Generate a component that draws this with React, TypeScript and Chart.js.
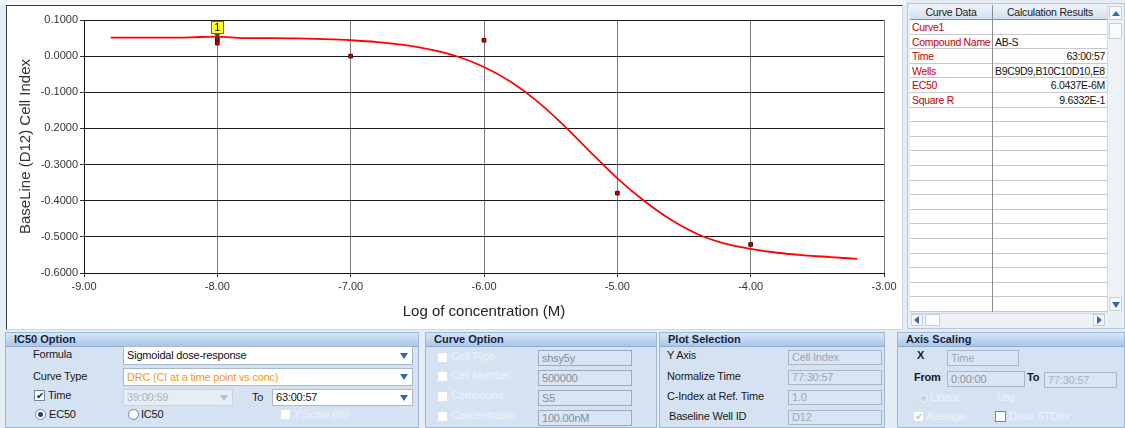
import React, { useEffect, useRef } from "react";
import Chart from "chart.js/auto";

// ---- chart data ----
const curveX = [-8.8, -8.6, -8.4, -8.2, -8.0, -7.8, -7.6, -7.4, -7.2, -7.0, -6.8, -6.6, -6.4, -6.2, -6.0, -5.8, -5.6, -5.4, -5.2, -5.0, -4.8, -4.6, -4.4, -4.2, -4.0, -3.8, -3.6, -3.4, -3.2];
const curveY = [0.051, 0.051, 0.051, 0.052, 0.054, 0.050, 0.050, 0.049, 0.047, 0.044, 0.039, 0.031, 0.018, -0.001, -0.030, -0.071, -0.125, -0.192, -0.266, -0.338, -0.400, -0.452, -0.492, -0.518, -0.533, -0.544, -0.551, -0.556, -0.561];
const pointX = [-8, -8, -7, -6, -5, -4];
const pointY = [0.046, 0.036, 0.0, 0.044, -0.379, -0.521];
const labelX = -8;
const labelY = 0.046;
const labelText = "1";
const xTickValues = [-9, -8, -7, -6, -5, -4, -3];
const xTickLabels = ["-9.00", "-8.00", "-7.00", "-6.00", "-5.00", "-4.00", "-3.00"];
const yTickValues = [-0.6, -0.5, -0.4, -0.3, -0.2, -0.1, 0.0, 0.1];
const yTickLabels = ["-0.6000", "-0.5000", "-0.4000", "-0.3000", "0.2000", "-0.1000", "0.0000", "0.1000"];
const xTitle = "Log of concentration (M)";
const yTitle = "BaseLine (D12) Cell Index";

const tableHeaders = ["Curve Data", "Calculation Results"];
const tableLabels = ["Curve1", "Compound Name", "Time", "Wells", "EC50", "Square R"];
const tableValues = ["", "AB-S", "63:00:57", "B9C9D9,B10C10D10,E8F", "6.0437E-6M", "9.6332E-1"];
const tableAlign = ["left", "left", "right", "left", "right", "right"];

const FONT = 'Arial, "Liberation Sans", sans-serif';

const labelPlugin = {
  id: "pointLabel",
  afterDatasetsDraw(chart: any) {
    const { ctx, scales } = chart;
    const px = scales.x.getPixelForValue(labelX);
    const py = scales.y.getPixelForValue(labelY);
    const w = 13, h = 13;
    const bx = Math.round(px - w / 2);
    const by = Math.round(py - 6 - h);
    ctx.save();
    ctx.fillStyle = "#ffff33";
    ctx.fillRect(bx, by, w, h);
    ctx.strokeStyle = "#6b6b3a";
    ctx.lineWidth = 1;
    ctx.strokeRect(bx + 0.5, by + 0.5, w - 1, h - 1);
    ctx.fillStyle = "#444";
    ctx.beginPath();
    ctx.moveTo(px - 3, by + h);
    ctx.lineTo(px + 3, by + h);
    ctx.lineTo(px, by + h + 4);
    ctx.closePath();
    ctx.fill();
    ctx.fillStyle = "#000";
    ctx.font = "11px " + FONT;
    ctx.textAlign = "center";
    ctx.textBaseline = "middle";
    ctx.fillText(labelText, px, by + h / 2 + 0.5);
    ctx.restore();
  },
};

function ChartPanel() {
  const ref = useRef<HTMLCanvasElement | null>(null);
  useEffect(() => {
    if (!ref.current) return;
    const chart = new Chart(ref.current, {
      type: "scatter",
      data: {
        datasets: [
          {
            label: "points",
            data: pointX.map((x, i) => ({ x, y: pointY[i] })),
            pointStyle: "rect",
            pointRadius: 2.6,
            backgroundColor: "#c80000",
            borderColor: "#4a0000",
            borderWidth: 1,
            showLine: false,
          },
          {
            label: "curve",
            data: curveX.map((x, i) => ({ x, y: curveY[i] })),
            showLine: true,
            borderColor: "#ff0000",
            borderWidth: 1.8,
            pointRadius: 0,
            cubicInterpolationMode: "monotone",
          },
        ],
      },
      options: {
        animation: false,
        responsive: false,
        devicePixelRatio: 1,
        events: [],
        layout: { padding: { left: 0, right: 21, top: 20, bottom: 0 } },
        plugins: { legend: { display: false }, tooltip: { enabled: false } },
        scales: {
          x: {
            type: "linear",
            min: -9,
            max: -3,
            afterBuildTicks: (s: any) => { s.ticks = xTickValues.map((v) => ({ value: v })); },
            afterFit: (s: any) => { s.height = 57; },
            ticks: {
              callback: (v: any) => {
                const i = xTickValues.findIndex((t) => Math.abs(t - v) < 1e-9);
                return i >= 0 ? xTickLabels[i] : "";
              },
              color: "#333",
              font: { family: FONT, size: 11 },
              padding: 3,
              maxRotation: 0,
            },
            grid: { color: "#7a7a7a", lineWidth: 1, tickLength: 4, tickColor: "#333" },
            border: { color: "#111", width: 1 },
            title: {
              display: true,
              text: xTitle,
              color: "#222",
              font: { family: FONT, size: 15 },
              padding: { top: 4, bottom: 9 },
            },
          },
          y: {
            type: "linear",
            min: -0.6,
            max: 0.1,
            afterBuildTicks: (s: any) => { s.ticks = yTickValues.map((v) => ({ value: v })); },
            afterFit: (s: any) => { s.width = 84; },
            ticks: {
              callback: (v: any) => {
                const i = yTickValues.findIndex((t) => Math.abs(t - v) < 1e-9);
                return i >= 0 ? yTickLabels[i] : "";
              },
              color: "#333",
              font: { family: FONT, size: 11 },
              padding: 2,
            },
            grid: { color: "#1c1c1c", lineWidth: 1, tickLength: 4, tickColor: "#333" },
            border: { color: "#111", width: 1 },
            title: {
              display: true,
              text: yTitle,
              color: "#333",
              font: { family: FONT, size: 15 },
              padding: { top: 17, bottom: 0 },
            },
          },
        },
      },
      plugins: [labelPlugin],
    } as any);
    return () => chart.destroy();
  }, []);
  return (
    <canvas
      ref={ref}
      width={905}
      height={330}
      style={{ position: "absolute", left: 0, top: 0, width: 905, height: 330 }}
    />
  );
}

const T = ({ x, y, c, b, s, children }: any) => (
  <div style={{ position: "absolute", left: x, top: y, fontSize: s || 11, color: c || "#1a1a1a", fontWeight: b ? "bold" : "normal", whiteSpace: "nowrap", lineHeight: "13px", letterSpacing: -0.2 }}>{children}</div>
);

const Arrow = ({ x, y, c }: any) => (
  <div style={{ position: "absolute", left: x, top: y, width: 0, height: 0, borderLeft: "4px solid transparent", borderRight: "4px solid transparent", borderTop: `6px solid ${c || "#3566b8"}` }} />
);

const Box = ({ x, y, w, h, text, c, bg, bd, arrow, arrowC }: any) => (
  <div style={{ position: "absolute", left: x, top: y, width: w, height: h, boxSizing: "border-box", background: bg || "#ffffff", border: `1px solid ${bd || "#a9b9cd"}`, overflow: "hidden" }}>
    <div style={{ position: "absolute", left: 3, top: Math.round((h - 2 - 13) / 2), fontSize: 11, lineHeight: "13px", color: c || "#111", whiteSpace: "nowrap", letterSpacing: -0.2 }}>{text}</div>
    {arrow ? <Arrow x={w - 14} y={Math.round((h - 2 - 6) / 2)} c={arrowC} /> : null}
  </div>
);

const Check = ({ x, y, on, dis }: any) => (
  <div style={{ position: "absolute", left: x, top: y, width: 11, height: 11, boxSizing: "border-box", background: "#fff", border: `1px solid ${dis ? "#d8e0ea" : "#6f86a6"}`, fontSize: 10, lineHeight: "9px", textAlign: "center", color: dis ? "#b9c6d6" : "#1a2a4a" }}>{on ? "✔" : ""}</div>
);

const Radio = ({ x, y, on, dis }: any) => (
  <div style={{ position: "absolute", left: x, top: y, width: 11, height: 11, boxSizing: "border-box", borderRadius: "50%", background: dis ? "#e4ebf4" : "#fff", border: `1px solid ${dis ? "#d8e0ea" : "#6f86a6"}` }}>
    {on ? <div style={{ position: "absolute", left: 2, top: 2, width: 5, height: 5, borderRadius: "50%", background: dis ? "#c8d3e0" : "#2a3f66" }} /> : null}
  </div>
);

const Panel = ({ x, w, title }: any) => (
  <div style={{ position: "absolute", left: x, top: 332, width: w, height: 96, boxSizing: "border-box", background: "#d4e2f2", border: "1px solid #9fb8d8" }}>
    <div style={{ position: "absolute", left: 0, top: 0, right: 0, height: 13, background: "linear-gradient(#d7e6f7, #aac6ea)", borderBottom: "1px solid #90acd2" }}>
      <div style={{ position: "absolute", left: 8, top: 0, fontSize: 11, lineHeight: "13px", fontWeight: "bold", color: "#15243c", whiteSpace: "nowrap" }}>{title}</div>
    </div>
  </div>
);

const DIS = "#eef3f9";
const GRAYTXT = "#9aa7b6";

function RightTable() {
  const rows = [];
  const rowH = 14.6;
  for (let i = 0; i < 20; i++) {
    const top = 20 + i * rowH;
    rows.push(
      <div key={i} style={{ position: "absolute", left: 910, top, width: 197, height: rowH, boxSizing: "border-box", borderBottom: "1px solid #c9c9c9", background: "#fff" }}>
        <div style={{ position: "absolute", left: 82, top: 0, width: 1, height: rowH, background: "#8d8d8d" }} />
        {i < tableLabels.length ? (
          <>
            <div style={{ position: "absolute", left: 2, top: 0, width: 79, overflow: "hidden", fontSize: 10.5, lineHeight: "14px", color: "#c00000", whiteSpace: "nowrap", letterSpacing: -0.3 }}>{tableLabels[i]}</div>
            <div style={{ position: "absolute", left: 85, top: 0, width: 110, overflow: "hidden", fontSize: 10.5, lineHeight: "14px", color: "#111", whiteSpace: "nowrap", letterSpacing: -0.3, textAlign: tableAlign[i] as any }}>{tableValues[i]}</div>
          </>
        ) : null}
      </div>
    );
  }
  return (
    <>
      <div style={{ position: "absolute", left: 907, top: 3, width: 218, height: 326, background: "#e9eef5", border: "1px solid #b7c7dc", boxSizing: "border-box" }} />
      <div style={{ position: "absolute", left: 910, top: 5, width: 197, height: 15, boxSizing: "border-box", background: "linear-gradient(#f1f5fb, #d2def0)", borderBottom: "1px solid #8d8d8d" }}>
        <div style={{ position: "absolute", left: 0, top: 0, width: 82, height: 14, borderRight: "1px solid #8d8d8d", textAlign: "center", fontSize: 10.5, lineHeight: "14px", color: "#1a1a1a", letterSpacing: -0.2 }}>{tableHeaders[0]}</div>
        <div style={{ position: "absolute", left: 83, top: 0, width: 114, height: 14, textAlign: "center", fontSize: 10.5, lineHeight: "14px", color: "#1a1a1a", letterSpacing: -0.2 }}>{tableHeaders[1]}</div>
      </div>
      {rows}
      {/* vertical scrollbar */}
      <div style={{ position: "absolute", left: 1107, top: 5, width: 16, height: 308, background: "#eef2f7", borderLeft: "1px solid #d0d8e4" }}>
        <div style={{ position: "absolute", left: 1, top: 1, width: 13, height: 14, background: "#f6f8fb", border: "1px solid #c5cfdc", boxSizing: "border-box" }}>
          <div style={{ position: "absolute", left: 2, top: 4, width: 0, height: 0, borderLeft: "4px solid transparent", borderRight: "4px solid transparent", borderBottom: "5px solid #3566b8" }} />
        </div>
        <div style={{ position: "absolute", left: 1, top: 18, width: 13, height: 16, background: "#fbfcfe", border: "1px solid #c5cfdc", boxSizing: "border-box" }} />
        <div style={{ position: "absolute", left: 1, top: 292, width: 13, height: 14, background: "#f6f8fb", border: "1px solid #c5cfdc", boxSizing: "border-box" }}>
          <Arrow x={2} y={4} />
        </div>
      </div>
      {/* horizontal scrollbar */}
      <div style={{ position: "absolute", left: 910, top: 313, width: 197, height: 13, background: "#eef2f7", borderTop: "1px solid #d0d8e4" }}>
        <div style={{ position: "absolute", left: 1, top: 0, width: 12, height: 12, background: "#f6f8fb", border: "1px solid #c5cfdc", boxSizing: "border-box" }}>
          <div style={{ position: "absolute", left: 2, top: 1, width: 0, height: 0, borderTop: "4px solid transparent", borderBottom: "4px solid transparent", borderRight: "5px solid #3566b8" }} />
        </div>
        <div style={{ position: "absolute", left: 15, top: 0, width: 15, height: 12, background: "#fbfcfe", border: "1px solid #c5cfdc", boxSizing: "border-box" }} />
        <div style={{ position: "absolute", left: 183, top: 0, width: 12, height: 12, background: "#f6f8fb", border: "1px solid #c5cfdc", boxSizing: "border-box" }}>
          <div style={{ position: "absolute", left: 3, top: 1, width: 0, height: 0, borderTop: "4px solid transparent", borderBottom: "4px solid transparent", borderLeft: "5px solid #3566b8" }} />
        </div>
      </div>
    </>
  );
}

function BottomPanels() {
  return (
    <>
      <Panel x={5} w={414} title="IC50 Option" />
      <Panel x={425} w={232} title="Curve Option" />
      <Panel x={659} w={226} title="Plot Selection" />
      <Panel x={897} w={228} title="Axis Scaling" />

      {/* IC50 Option */}
      <T x={33} y={348}>Formula</T>
      <Box x={123} y={346} w={290} h={19} text="Sigmoidal dose-response" arrow />
      <T x={33} y={370}>Curve Type</T>
      <Box x={123} y={368} w={290} h={18} text="DRC (CI at a time point vs conc)" c="#f29a1e" arrow />
      <Check x={34} y={390} on />
      <T x={48} y={389}>Time</T>
      <Box x={123} y={389} w={110} h={17} text="39:00:59" c="#a9b4c2" bg="#e6edf5" bd="#c7d3e1" arrow arrowC="#b4c2d4" />
      <T x={252} y={391}>To</T>
      <Box x={272} y={389} w={141} h={17} text="63:00:57" arrow />
      <Radio x={35} y={409} on />
      <T x={49} y={408}>EC50</T>
      <Radio x={128} y={409} />
      <T x={141} y={408}>IC50</T>
      <Check x={280} y={409} dis />
      <T x={293} y={408} c={DIS}>Y Scale (%)</T>

      {/* Curve Option */}
      <Check x={437} y={352} dis />
      <T x={451} y={350} c={DIS}>Cell Type</T>
      <Box x={538} y={350} w={94} h={16} text="shsy5y" c="#7f8d9d" bg="#d9e5f3" bd="#9aabbf" />
      <Check x={437} y={371} dis />
      <T x={451} y={369} c={DIS}>Cell Number</T>
      <Box x={538} y={370} w={94} h={16} text="500000" c="#7f8d9d" bg="#d9e5f3" bd="#9aabbf" />
      <Check x={437} y={391} dis />
      <T x={451} y={389} c={DIS}>Compound</T>
      <Box x={538} y={390} w={94} h={16} text="S5" c="#7f8d9d" bg="#d9e5f3" bd="#9aabbf" />
      <Check x={437} y={411} dis />
      <T x={451} y={409} c={DIS}>Concentration</T>
      <Box x={538} y={410} w={94} h={16} text="100.00nM" c="#7f8d9d" bg="#d9e5f3" bd="#9aabbf" />

      {/* Plot Selection */}
      <T x={667} y={349}>Y Axis</T>
      <Box x={788} y={350} w={94} h={15} text="Cell Index" c={GRAYTXT} bg="#d9e5f3" bd="#a8b6c8" />
      <T x={667} y={370}>Normalize Time</T>
      <Box x={788} y={370} w={94} h={15} text="77:30:57" c={GRAYTXT} bg="#d9e5f3" bd="#a8b6c8" />
      <T x={667} y={390}>C-Index at Ref. Time</T>
      <Box x={788} y={390} w={94} h={15} text="1.0" c={GRAYTXT} bg="#d9e5f3" bd="#a8b6c8" />
      <T x={669} y={410}>Baseline Well ID</T>
      <Box x={788} y={410} w={94} h={15} text="D12" c={GRAYTXT} bg="#d9e5f3" bd="#a8b6c8" />

      {/* Axis Scaling */}
      <T x={917} y={349} b>X</T>
      <Box x={947} y={350} w={72} h={16} text="Time" c={GRAYTXT} bg="#d9e5f3" bd="#a8b6c8" />
      <T x={914} y={371} b>From</T>
      <Box x={947} y={371} w={78} h={16} text="0:00:00" c="#8a97a8" bg="#d9e5f3" bd="#a8b6c8" />
      <T x={1027} y={371} b>To</T>
      <Box x={1044} y={372} w={73} h={16} text="77:30:57" c="#a9b4c2" bg="#d9e5f3" bd="#a8b6c8" />
      <Radio x={918} y={393} on dis />
      <T x={930} y={391} c={DIS}>Linear</T>
      <T x={997} y={391} c={DIS}>Log</T>
      <Check x={913} y={411} on dis />
      <T x={926} y={410} c={DIS}>Average</T>
      <Check x={995} y={411} />
      <T x={1009} y={410} c={DIS}>Draw STDev</T>
    </>
  );
}

export default function App() {
  return (
    <div style={{ position: "relative", width: 1125, height: 428, overflow: "hidden", background: "#e4ecf6", fontFamily: FONT }}>
      <style>{"body{margin:0;}"}</style>
      <div style={{ position: "absolute", left: 0, top: 0, width: 905, height: 5, background: "#f6f8fb" }} />
      <div style={{ position: "absolute", left: 6, top: 5, width: 897, height: 325, boxSizing: "border-box", background: "#ffffff", borderTop: "1px solid #3c3c3c", borderLeft: "1px solid #3c3c3c", borderRight: "1px solid #cfd8e4", borderBottom: "1px solid #cfd8e4" }} />
      <ChartPanel />
      <RightTable />
      <BottomPanels />
    </div>
  );
}
